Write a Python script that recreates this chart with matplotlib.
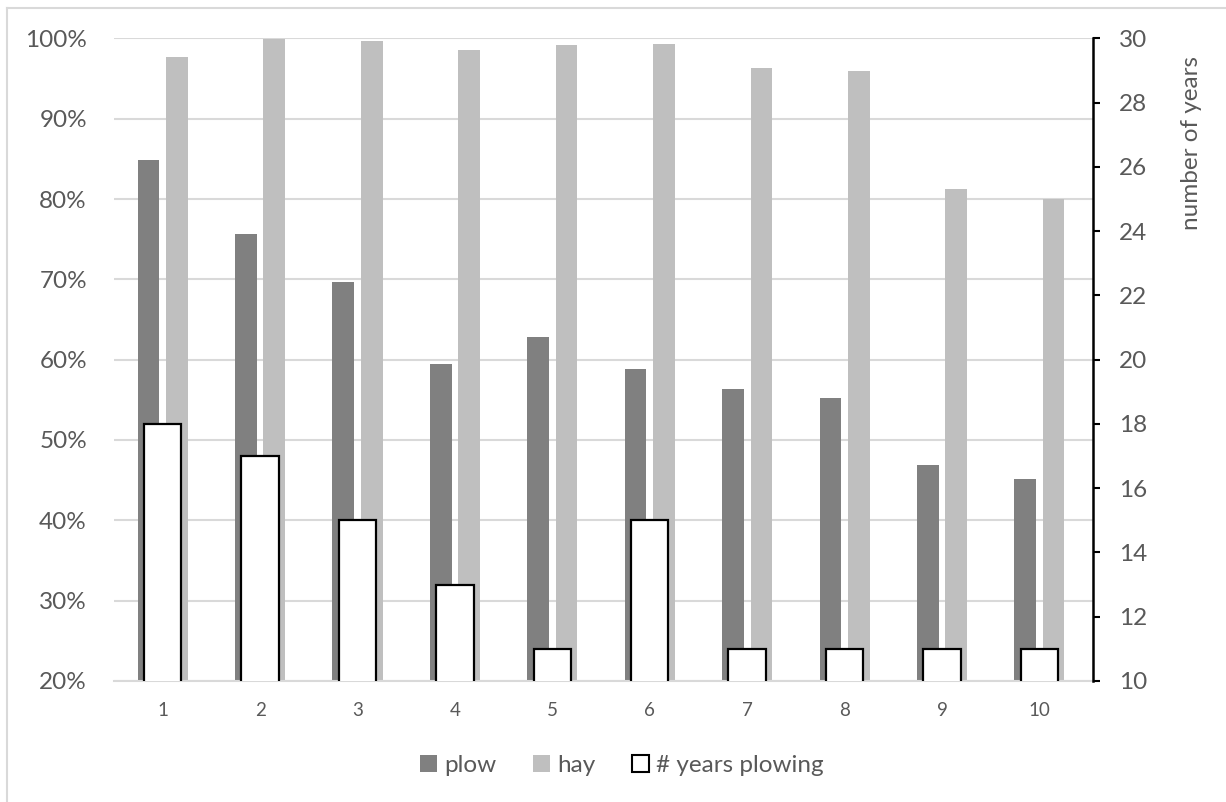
import numpy as np
import matplotlib
matplotlib.use("Agg")
import matplotlib.pyplot as plt
from matplotlib.patches import Patch
from matplotlib.lines import Line2D

categories = ["1", "2", "3", "4", "5", "6", "7", "8", "9", "10"]
plow = [84.9, 75.6, 69.7, 59.5, 62.8, 58.8, 56.4, 55.2, 46.9, 45.1]
hay = [97.7, 99.9, 99.7, 98.6, 99.2, 99.3, 96.3, 96.0, 81.2, 80.0]
years_plowing = [18, 17, 15, 13, 11, 15, 11, 11, 11, 11]
left_ticks = [20, 30, 40, 50, 60, 70, 80, 90, 100]
right_ticks = [10, 12, 14, 16, 18, 20, 22, 24, 26, 28, 30]

plt.rcParams['font.family'] = ['Lato', 'DejaVu Sans']
txt = '#595959'
grid_c = '#D9D9D9'

fig = plt.figure(figsize=(12.26, 8.02), dpi=100)
ax = fig.add_axes([0.093, 0.151, 0.7985, 0.801])
ax2 = ax.twinx()

x = np.arange(1, len(categories) + 1)
bw = 0.223
off = 0.146
ax.bar(x - off, plow, width=bw, color='#808080', zorder=2)
ax.bar(x + off, hay, width=bw, color='#BFBFBF', zorder=2)
ax.set_ylim(20, 100)
ax.set_xlim(0.5, 10.55)
ax.set_yticks(left_ticks)
ax.set_yticklabels([f"{t}%" for t in left_ticks])
ax.yaxis.grid(True, color=grid_c, linewidth=1.5, zorder=0)
ax.set_axisbelow(True)
ax.set_xticks(x)
ax.set_xticklabels(categories)
ax.tick_params(axis='x', length=0, pad=15, labelsize=13.5, labelcolor=txt)
ax.tick_params(axis='y', length=0, pad=19.5, labelsize=17.5, labelcolor=txt)
for s in ['top', 'left', 'right']:
    ax.spines[s].set_visible(False)
ax.spines['bottom'].set_color(grid_c)
ax.spines['bottom'].set_linewidth(1.5)

ax2.bar(x, years_plowing, width=0.384, color='white', edgecolor='black', linewidth=1.6, zorder=3)
ax2.set_ylim(10, 30)
ax2.set_yticks(right_ticks)
ax2.tick_params(axis='y', length=5, width=1.5, color='black', pad=14, labelsize=17.5, labelcolor=txt)
for s in ['top', 'left', 'bottom']:
    ax2.spines[s].set_visible(False)
ax2.spines['right'].set_color('black')
ax2.spines['right'].set_linewidth(1.8)
ax2.set_ylabel('number of years', fontsize=17.5, color=txt, labelpad=24, y=0.837)

handles = [Patch(facecolor='#808080', edgecolor='none', label='plow'),
           Patch(facecolor='#BFBFBF', edgecolor='none', label='hay'),
           Patch(facecolor='white', edgecolor='black', linewidth=1.5, label='# years plowing')]
leg = fig.legend(handles=handles, loc='center', bbox_to_anchor=(0.507, 0.046), ncol=3,
                 frameon=False, fontsize=17.5, handlelength=0.7, handleheight=0.7,
                 handletextpad=0.3, columnspacing=1.5)
for t in leg.get_texts():
    t.set_color(txt)

# outer chart border (left and top edges visible)
x0, y1 = 7 / 1226, 1 - 8 / 802
fig.add_artist(Line2D([x0, x0], [0, y1], transform=fig.transFigure, color=grid_c, linewidth=1.5))
fig.add_artist(Line2D([x0, 1], [y1, y1], transform=fig.transFigure, color=grid_c, linewidth=1.5))

fig.savefig('out.png', dpi=100)
